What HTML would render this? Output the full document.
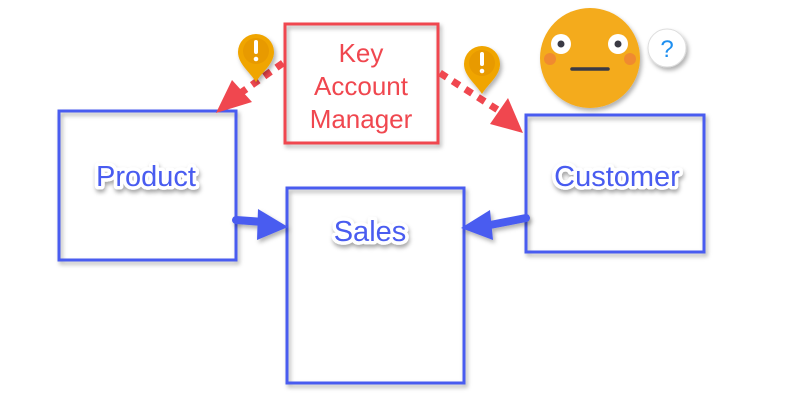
<!DOCTYPE html>
<html><head><meta charset="utf-8"><style>
html,body{margin:0;padding:0;background:#fff;width:800px;height:418px;overflow:hidden}
svg{display:block}
.lbl{font-family:"Liberation Sans",sans-serif;font-size:29px;fill:#4a5cf0;stroke:#fff;stroke-width:7px;paint-order:stroke;stroke-linejoin:round;filter:url(#ts)}
</style></head><body>
<svg width="800" height="418" viewBox="0 0 800 418" xmlns="http://www.w3.org/2000/svg">
<defs>
<filter id="sh" x="-20%" y="-20%" width="140%" height="140%"><feDropShadow dx="2" dy="3" stdDeviation="2" flood-color="#000" flood-opacity="0.3"/></filter>
<filter id="ts" x="-20%" y="-40%" width="140%" height="180%"><feDropShadow dx="1" dy="3" stdDeviation="2" flood-color="#000" flood-opacity="0.35"/></filter>
</defs>
<g fill="none" stroke-width="3" filter="url(#sh)">
<rect x="59" y="111" width="177" height="149" stroke="#4a5cf0"/>
<rect x="287" y="188" width="177" height="195" stroke="#4a5cf0"/>
<rect x="526" y="115" width="178" height="137" stroke="#4a5cf0"/>
<rect x="285" y="24" width="153" height="119" stroke="#f0474f"/>
</g>
<g stroke="#f0474f" stroke-width="7" stroke-dasharray="8,7" fill="none">
<line x1="283" y1="63" x2="242" y2="92"/>
<line x1="440" y1="73" x2="498" y2="110"/>
</g>
<polygon points="216,113 232,80 252,102" fill="#f0474f"/>
<polygon points="523,133 490,124 508,98" fill="#f0474f"/>
<g filter="url(#sh)">
<path d="M236 220 L264 222" stroke="#4a5cf0" stroke-width="8" stroke-linecap="round"/>
<polygon points="288,227 258,209 257,240" fill="#4a5cf0"/>
<path d="M526 218 L490 225" stroke="#4a5cf0" stroke-width="8" stroke-linecap="round"/>
<polygon points="461,228 490,210 493,240" fill="#4a5cf0"/>
</g>
<g filter="url(#sh)">
<path d="M256 82 C250 72 238 64 238 52 A18 18 0 0 1 274 52 C274 64 262 72 256 82Z" fill="#f0a500"/>
<circle cx="256" cy="51" r="13" fill="#e89a00"/>
<path d="M482 94 C476 84 464 76 464 64 A18 18 0 0 1 500 64 C500 76 488 84 482 94Z" fill="#f0a500"/>
<circle cx="482" cy="63" r="13" fill="#e89a00"/>
</g>
<g fill="#fff"><rect x="254" y="40" width="4" height="14" rx="2"/><circle cx="256" cy="59" r="2.3"/>
<rect x="480" y="52" width="4" height="14" rx="2"/><circle cx="482" cy="71" r="2.3"/></g>
<circle cx="590" cy="58" r="50" fill="#f4ab1f" filter="url(#sh)"/>
<circle cx="550" cy="59" r="6" fill="#f08a30"/><circle cx="630" cy="59" r="6" fill="#f08a30"/>
<circle cx="561" cy="44" r="10" fill="#fff"/><circle cx="561" cy="44" r="3.5" fill="#3a3a44"/>
<circle cx="618" cy="44" r="10" fill="#fff"/><circle cx="618" cy="44" r="3.5" fill="#3a3a44"/>
<line x1="572" y1="69" x2="608" y2="69" stroke="#3a3a44" stroke-width="3.5" stroke-linecap="round"/>
<circle cx="667" cy="48" r="19" fill="#fff" stroke="#ddd" stroke-width="1" filter="url(#sh)"/>
<text x="667" y="57" text-anchor="middle" font-family="Liberation Sans,sans-serif" font-size="24" fill="#1e8ff0">?</text>
<text x="361" y="62" text-anchor="middle" font-family="Liberation Sans,sans-serif" font-size="26" fill="#f0474f">Key</text>
<text x="361" y="95" text-anchor="middle" font-family="Liberation Sans,sans-serif" font-size="26" fill="#f0474f">Account</text>
<text x="361" y="128" text-anchor="middle" font-family="Liberation Sans,sans-serif" font-size="26" fill="#f0474f">Manager</text>
<text class="lbl" x="146" y="186" text-anchor="middle">Product</text>
<text class="lbl" x="370" y="241" text-anchor="middle">Sales</text>
<text class="lbl" x="617" y="186" text-anchor="middle">Customer</text>
</svg>
</body></html>
